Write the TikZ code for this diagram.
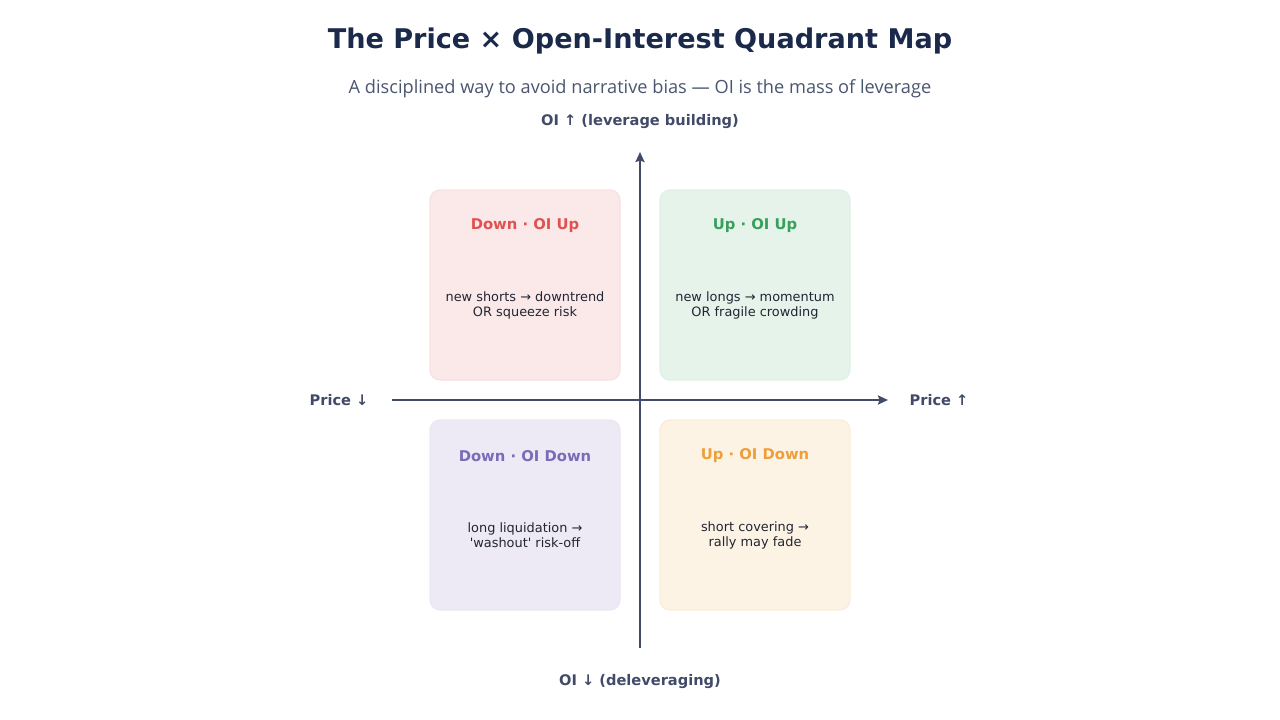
\documentclass[tikz,border=0pt]{standalone}
\usepackage{fontspec}
\setmainfont{DejaVu Sans}
\newfontfamily\subfont{Open Sans}
\usepackage{xcolor}
\usetikzlibrary{arrows.meta,positioning,calc}
\definecolor{cInk}{HTML}{1B2A4A}
\definecolor{cAxis}{HTML}{414B69}
\definecolor{cSub}{HTML}{4A5570}
\definecolor{cBody}{HTML}{222633}
\definecolor{cRed}{HTML}{E05252}
\definecolor{cGreen}{HTML}{38A05A}
\definecolor{cPurple}{HTML}{7B6BB8}
\definecolor{cOrange}{HTML}{EDA03A}
\tikzset{
  quad/.style   = {rounded corners=10pt, line width=1.2pt,
                   minimum width=190pt, minimum height=190pt, inner sep=0pt},
  redq/.style   = {quad, draw=cRed!18, fill=cRed!13},
  greenq/.style = {quad, draw=cGreen!16, fill=cGreen!13},
  purpq/.style  = {quad, draw=cPurple!16, fill=cPurple!14},
  orgq/.style   = {quad, draw=cOrange!20, fill=cOrange!13},
  qtitle/.style = {font=\fontsize{14.8}{18}\selectfont\bfseries},
  qbody/.style  = {font=\fontsize{12.9}{15}\selectfont, text=cBody, align=center},
  axlabel/.style = {font=\fontsize{14.6}{17}\selectfont\bfseries, text=cAxis},
  axis/.style   = {-{Stealth[length=10pt,width=9pt,inset=1.5pt]}, line width=2.2pt, draw=cAxis},
}
\begin{document}
\begin{tikzpicture}[x=1pt, y=-1pt]
  \useasboundingbox (0,0) rectangle (1280,720);
  % heading
  \node[font=\fontsize{27.1}{31}\selectfont\bfseries, text=cInk] (title) at (640,41)
    {The Price × Open-Interest Quadrant Map};
  \node[font=\subfont\fontsize{18.2}{21}\selectfont, text=cSub] (sub) at (640,89)
    {A disciplined way to avoid narrative bias — OI is the mass of leverage};
  % quadrants
  \node[redq] (dnup) at (525,285) {};
  \node[greenq] (upup) at (755,285) {};
  \node[purpq] (dndn) at (525,515) {};
  \node[orgq] (updn) at (755,515) {};
  \node[qtitle, text=cRed] at ($(dnup.north)+(0,36)$) {Down · OI Up};
  \node[qbody] at ($(dnup.center)+(0,20.5)$) {new shorts → downtrend\\ OR squeeze risk};
  \node[qtitle, text=cGreen] at ($(upup.north)+(0,36)$) {Up · OI Up};
  \node[qbody] at ($(upup.center)+(0,20.5)$) {new longs → momentum\\ OR fragile crowding};
  \node[qtitle, text=cPurple] at ($(dndn.north)+(0,37)$) {Down · OI Down};
  \node[qbody] at ($(dndn.center)+(0,20.5)$) {long liquidation →\\ \textquotesingle washout\textquotesingle\ risk-off};
  \node[qtitle, text=cOrange] at ($(updn.north)+(0,36)$) {Up · OI Down};
  \node[qbody] at ($(updn.center)+(0,20.5)$) {short covering →\\ rally may fade};
  % axes
  \coordinate (xl) at (392,400);
  \coordinate (xr) at (888,400);
  \coordinate (yb) at (640,648);
  \coordinate (yt) at (640,152);
  \draw[axis] (xl) -- (xr);
  \draw[axis] (yb) -- (yt);
  \node[axlabel] (pdn) at (339,400) {Price ↓};
  \node[axlabel] (pup) at (939,400) {Price ↑};
  \node[axlabel] (oiup) at (640,122) {OI ↑ (leverage building)};
  \node[axlabel] (oidn) at (640,682) {OI ↓ (deleveraging)};
\end{tikzpicture}
\end{document}
